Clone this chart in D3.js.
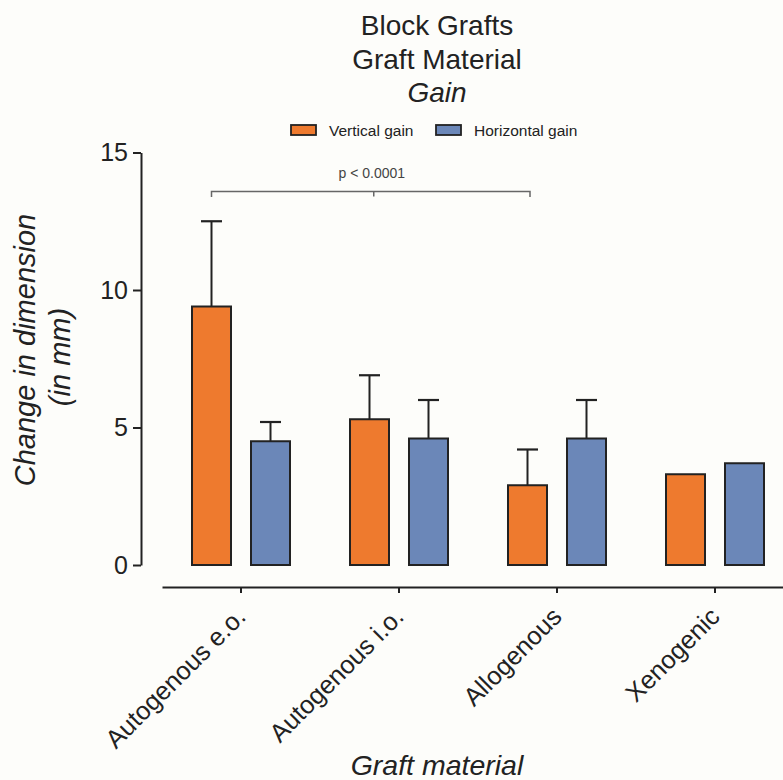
<!DOCTYPE html>
<html><head><meta charset="utf-8">
<script src="https://cdn.jsdelivr.net/npm/d3@7"></script>
<style>
body{margin:0;background:#fdfdfa;}
svg{display:block;font-family:"Liberation Sans",Arial,sans-serif;}
</style></head>
<body>
<svg id="chart" width="783" height="780"></svg>
<script>
const categories = ["Autogenous e.o.", "Autogenous i.o.", "Allogenous", "Xenogenic"];
const seriesNames = ["Vertical gain", "Horizontal gain"];
const verticalMean = [9.4, 5.3, 2.9, 3.3];
const verticalErr = [12.5, 6.9, 4.2, null];
const horizontalMean = [4.5, 4.6, 4.6, 3.7];
const horizontalErr = [5.2, 6.0, 6.0, null];
const yTicks = [0, 5, 10, 15];
const colors = ["#ee7a2e", "#6b87b8"];
const pText = "p < 0.0001";

const svg = d3.select("#chart");
const x = d3.scaleBand().domain(categories).range([162, 794]).paddingInner(0).paddingOuter(0);
const y = d3.scaleLinear().domain([0, 15]).range([565, 152.5]);
const sub = d3.scaleBand().domain(seriesNames).range([-59, 59]).padding(0);

// Titles
const titles = [["Block Grafts", 35, "normal"], ["Graft Material", 69, "normal"], ["Gain", 102, "italic"]];
svg.selectAll("text.title").data(titles).join("text")
  .attr("class", "title").attr("x", 437).attr("y", d => d[1])
  .attr("text-anchor", "middle").attr("font-size", 28).attr("font-style", d => d[2])
  .attr("fill", "#222").text(d => d[0]);

// Legend
const legendX = [291, 436];
const lg = svg.selectAll("g.leg").data(seriesNames).join("g").attr("class", "leg")
  .attr("transform", (d, i) => `translate(${legendX[i]},125)`);
lg.append("rect").attr("width", 25).attr("height", 10)
  .attr("fill", (d, i) => colors[i]).attr("stroke", "#222").attr("stroke-width", 1.8);
lg.append("text").attr("x", 38).attr("y", 10.5).attr("font-size", 15.5).attr("fill", "#222").text(d => d);

// Y axis
const yAxis = svg.append("g").attr("transform", "translate(141,0)")
  .call(d3.axisLeft(y).tickValues(yTicks).tickSize(8).tickSizeOuter(0).tickPadding(5));
yAxis.selectAll("path,line").attr("stroke", "#222").attr("stroke-width", 2);
yAxis.selectAll("text").attr("font-size", 25).attr("fill", "#222").attr("font-family", "Liberation Sans, Arial, sans-serif");

// X axis
const xAxis = svg.append("g").attr("transform", "translate(0,587)")
  .call(d3.axisBottom(x).tickSize(6).tickSizeOuter(0).tickFormat(""));
xAxis.selectAll("path,line").attr("stroke", "#222").attr("stroke-width", 2);
svg.selectAll("text.xlab").data(categories).join("text").attr("class", "xlab")
  .attr("transform", d => `translate(${x(d) + x.bandwidth() / 2},612) rotate(-45)`)
  .attr("text-anchor", "end").attr("dy", "0.35em").attr("font-size", 25.5).attr("fill", "#222").text(d => d);

// Axis titles
svg.append("text").attr("transform", "translate(35,350) rotate(-90)")
  .attr("text-anchor", "middle").attr("font-size", 29).attr("font-style", "italic").attr("fill", "#222")
  .text("Change in dimension");
svg.append("text").attr("transform", "translate(70,357) rotate(-90)")
  .attr("text-anchor", "middle").attr("font-size", 29).attr("font-style", "italic").attr("fill", "#222")
  .text("(in mm)");
svg.append("text").attr("x", 437).attr("y", 775).attr("text-anchor", "middle")
  .attr("font-size", 28.5).attr("font-style", "italic").attr("fill", "#222").text("Graft material");

// Bars
const series = [
  {name: seriesNames[0], mean: verticalMean, err: verticalErr, color: colors[0]},
  {name: seriesNames[1], mean: horizontalMean, err: horizontalErr, color: colors[1]}
];
const barW = 39;
series.forEach(s => {
  const off = sub(s.name) + sub.bandwidth() / 2;
  const data = categories.map((c, i) => ({c, v: s.mean[i], e: s.err[i]}));
  const cx = d => x(d.c) + x.bandwidth() / 2 + off;
  const eb = data.filter(d => d.e != null);
  svg.selectAll(null).data(eb).join("line")
    .attr("x1", cx).attr("x2", cx).attr("y1", d => y(d.v)).attr("y2", d => y(d.e))
    .attr("stroke", "#222").attr("stroke-width", 2);
  svg.selectAll(null).data(eb).join("line")
    .attr("x1", d => cx(d) - 10.5).attr("x2", d => cx(d) + 10.5).attr("y1", d => y(d.e)).attr("y2", d => y(d.e))
    .attr("stroke", "#222").attr("stroke-width", 2.2);
  svg.selectAll(null).data(data).join("rect")
    .attr("x", d => cx(d) - barW / 2).attr("width", barW)
    .attr("y", d => y(d.v)).attr("height", d => y(0) - y(d.v))
    .attr("fill", s.color).attr("stroke", "#222").attr("stroke-width", 2);
});

// Significance bracket
const off0 = sub(seriesNames[0]) + sub.bandwidth() / 2;
const bx1 = x(categories[0]) + x.bandwidth() / 2 + off0;
const bx2 = x(categories[2]) + x.bandwidth() / 2 + off0 + 2.5;
const bm = (bx1 + bx2) / 2 + 3;
const by = 191.5;
const br = svg.append("g").attr("stroke", "#666").attr("stroke-width", 1.5).attr("fill", "none");
br.append("path").attr("d", `M${bx1},${by + 5.5}V${by}H${bx2}V${by + 5.5}`);
br.append("line").attr("x1", bm).attr("x2", bm).attr("y1", by).attr("y2", by + 5);
svg.append("text").attr("x", bm - 2).attr("y", 178).attr("text-anchor", "middle")
  .attr("font-size", 14).attr("fill", "#444").text(pText);
</script>
</body></html>
